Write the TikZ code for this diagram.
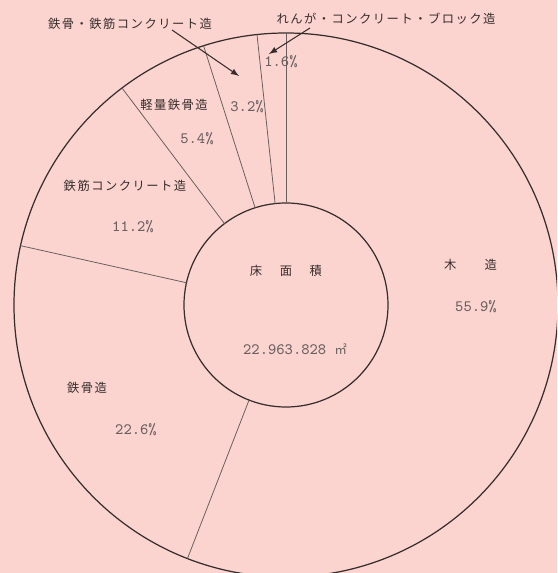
\documentclass[tikz,border=0pt]{standalone}
\usepackage{fontspec}
\newfontfamily\jp[LetterSpace=12]{Noto Sans CJK JP}
\usepackage{tikz}
\usetikzlibrary{arrows}
\usepackage{color}
\definecolor{blush}{RGB}{251, 212, 207}
\definecolor{ink}{RGB}{55, 45, 45}
\definecolor{graphite}{RGB}{105, 95, 95}

\tikzset{
    jlabel/.style={font=\jp\fontsize{7}{8}\selectfont, text=ink, inner sep=0pt},
    pct/.style={font=\ttfamily\fontsize{9}{10}\selectfont, text=graphite, inner sep=0pt},
    pointer/.style={-latex, ink, line width=0.6pt},
}

\begin{document}
\begin{tikzpicture}
            % Paper & frame
            \fill[blush]                                                      (-5.72,-5.36) rectangle (5.42, 6.10);
            \useasboundingbox                                                 (-5.72,-5.36) rectangle (5.42, 6.10);
            \clip                                                             (-5.72,-5.36) rectangle (5.42, 6.10);
            % Rings
            \draw[ink, line width=0.7pt]                                      ( 0.00, 0.00) circle (5.44);
            \draw[ink, line width=0.7pt]                                      ( 0.00, 0.00) circle (2.04);
            % Sector borders (clockwise from the top)
            \foreach \a in {90, -111.24, 167.40, 127.08, 107.64, 96.12}
                \draw[graphite, line width=0.45pt]                            (\a:2.04) -- (\a:5.44);
            % Centre
            \node[jlabel] (areaLbl)   at ( 0.00, 0.68) {床\hspace{10pt}面\hspace{10pt}積};
            \node[pct]    (areaVal)   at ( 0.18,-0.88) {22.963.828 {\jp\fontsize{7}{8}\selectfont ㎡}};
            % Sector names
            \node[jlabel] (woodLbl)   at ( 3.69, 0.80) {木\hspace{16pt}造};
            \node[jlabel] (steelLbl)  at (-3.98,-1.66) {鉄骨造};
            \node[jlabel] (rcLbl)     at (-3.22, 2.38) {鉄筋コンクリート造};
            \node[jlabel] (lightLbl)  at (-2.24, 4.00) {軽量鉄骨造};
            \node[jlabel] (srcLbl)    at (-3.12, 5.62) {鉄骨・鉄筋コンクリート造};
            \node[jlabel] (brickLbl)  at ( 2.00, 5.72) {れんが・コンクリート・ブロック造};
            % Shares
            \node[pct]    (woodPct)   at ( 3.80,-0.04) {55.9\%};
            \node[pct]    (steelPct)  at (-3.00,-2.50) {22.6\%};
            \node[pct]    (rcPct)     at (-3.06, 1.56) {11.2\%};
            \node[pct]    (lightPct)  at (-1.78, 3.32) {5.4\%};
            \node[pct]    (srcPct)    at (-0.78, 3.96) {3.2\%};
            \node[pct]    (brickPct)  at (-0.10, 4.86) {1.6\%};
            % Pointers for the thin slices
            \coordinate   (srcTail)   at (-2.28, 5.50);
            \coordinate   (srcTip)    at (-0.94, 4.58);
            \coordinate   (brickTail) at ( 0.48, 5.54);
            \coordinate   (brickTip)  at (-0.34, 5.02);
            \draw[pointer] (srcTail)   -- (srcTip);
            \draw[pointer] (brickTail) -- (brickTip);
        \end{tikzpicture}
\end{document}
